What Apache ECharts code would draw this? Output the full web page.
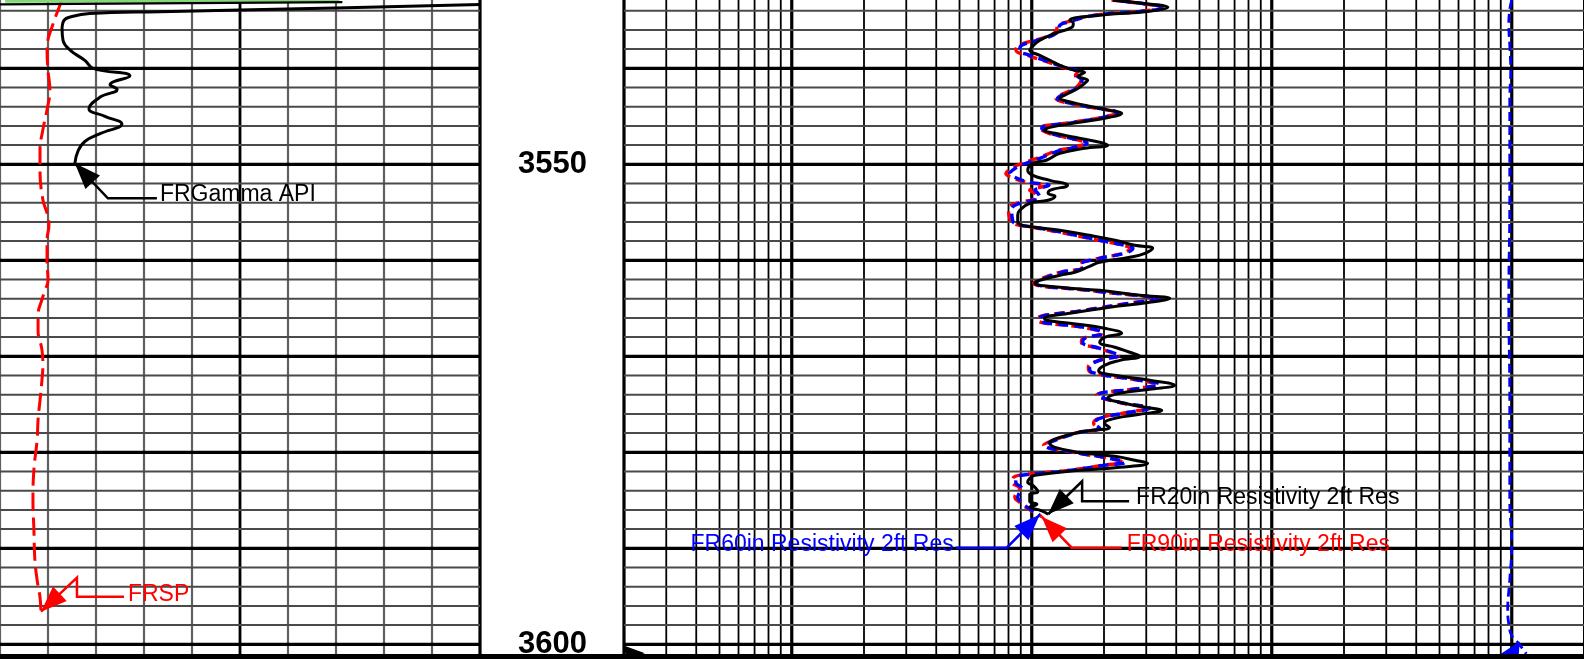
<!DOCTYPE html>
<html>
<head>
<meta charset="utf-8">
<title>Well log 3533–3601 ft</title>
<script src="https://cdn.jsdelivr.net/npm/echarts@6.0.0/dist/echarts.min.js"></script>
<style>
  html, body { margin: 0; padding: 0; background: #fff; overflow: hidden; }
  #log { width: 1584px; height: 659px; }
</style>
</head>
<body>
<div id="log"></div>
<script>
// ---- depth window (ft) ----
const DEPTH_TOP = 3532.885;
const DEPTH_BOTTOM = 3601.53;
const depthLabels = [3550, 3600];
const gridDepths = [3534, 3536, 3538, 3540, 3542, 3544, 3546, 3548, 3550, 3552, 3554, 3556,
  3558, 3560, 3562, 3564, 3566, 3568, 3570, 3572, 3574, 3576, 3578, 3580, 3582, 3584, 3586,
  3588, 3590, 3592, 3594, 3596, 3598, 3600];

// ---- track scales ----
const gammaTicks = [0, 15, 30, 45, 60, 75, 90, 105, 120, 135, 150];
const gammaMajorTicks = [75, 150];
const resMinorTicks = [0.3, 0.4, 0.5, 0.6, 0.7, 0.8, 0.9, 2, 3, 4, 5, 6, 7, 8, 9,
  20, 30, 40, 50, 60, 70, 80, 90, 200, 300, 400, 500, 600, 700, 800, 900];
const resMajorTicks = [0.2, 1, 10, 100, 1000, 2000];

// ---- curves: [depth ft, value] ----
const gammaRay = [
  [3533.36, 150], [3533.8, 93], [3534.1, 50], [3534.3, 28], [3534.6, 22.5], [3535.0, 20.0],
  [3535.9, 19.4], [3537.1, 19.7], [3538.1, 21.9], [3539.2, 26.6], [3540.0, 29.1], [3540.8, 40.6],
  [3541.7, 34.4], [3542.2, 36.6], [3543.0, 31.3], [3544.2, 27.8], [3545.0, 32.8], [3545.8, 38.1],
  [3546.8, 31.3], [3547.6, 26.6], [3548.6, 24.4], [3549.9, 23.4]
];
const gammaRayWrap = [[3533.35, 0], [3533.1, 107]];
const gammaFillTop = [[3532.99, 1.6], [3532.99, 106]];

const spontaneousPotential = [
  [3532.89, -80.6], [3534.24, -82.2], [3535.7, -83.75], [3537.0, -85.0], [3538.1, -85.3],
  [3540.2, -85.0], [3542.3, -84.4], [3544.3, -85.3], [3546.4, -86.6], [3548.5, -87.5],
  [3550.6, -87.5], [3553.7, -86.6], [3555.1, -85.3], [3556.3, -84.7], [3557.9, -85.3],
  [3560.0, -85.3], [3562.1, -85.0], [3563.1, -85.9], [3564.1, -86.9], [3565.7, -88.1],
  [3567.3, -88.1], [3569.3, -86.9], [3570.9, -86.6], [3572.5, -86.9], [3574.6, -87.5],
  [3576.6, -88.1], [3578.7, -88.4], [3581.8, -89.4], [3584.96, -89.7], [3588.1, -89.4],
  [3591.2, -89.1], [3593.3, -88.4], [3595.1, -87.5], [3596.6, -87.2]
];

const res20 = [
  [3532.9, 21.8], [3533.3, 30.5], [3533.65, 36.9], [3534.06, 31.0], [3534.48, 19.2], [3535.0, 14.4],
  [3535.3, 14.9], [3535.73, 14.7], [3536.35, 12.5], [3537.08, 10.8], [3537.81, 10.0], [3538.13, 9.81],
  [3538.65, 10.8], [3539.17, 11.9], [3539.69, 13.1], [3540.21, 15.1], [3540.42, 16.6], [3540.83, 15.6],
  [3541.25, 17.1], [3541.56, 16.6], [3542.08, 15.6], [3542.81, 13.7], [3543.13, 13.1], [3543.33, 13.5],
  [3543.85, 16.6], [3544.38, 21.1], [3544.69, 23.7], [3545.1, 21.1], [3545.63, 15.8], [3546.15, 11.9],
  [3546.46, 11.3], [3546.77, 12.5], [3547.19, 15.1], [3547.71, 19.2], [3548.02, 20.7], [3548.33, 16.6],
  [3548.85, 13.1], [3549.58, 11.5], [3549.9, 10.1], [3550.63, 9.62], [3551.15, 10.1], [3551.67, 11.9],
  [3552.19, 14.1], [3552.71, 11.9], [3553.02, 11.7], [3553.33, 12.5], [3553.75, 11.7], [3554.06, 9.81],
  [3554.79, 8.91], [3555.31, 8.74], [3555.83, 8.74], [3556.25, 8.91], [3556.56, 10.3], [3556.88, 13.1],
  [3557.4, 17.4], [3557.92, 22.2], [3558.44, 26.9], [3558.75, 31.9], [3559.27, 29.6], [3559.69, 25.6],
  [3560.21, 19.2], [3560.63, 17.4], [3561.25, 15.1], [3561.56, 13.1], [3562.08, 10.8], [3562.4, 10.3],
  [3562.81, 13.1], [3563.13, 19.2], [3563.65, 28.2], [3563.96, 37.6], [3564.38, 31.0], [3564.9, 21.1],
  [3565.52, 14.4], [3566.04, 11.3], [3566.25, 11.5], [3566.56, 14.4], [3567.08, 20.1], [3567.6, 23.7],
  [3568.02, 20.1], [3568.54, 19.2], [3569.06, 22.2], [3569.58, 25.6], [3570.0, 28.2], [3570.42, 23.3],
  [3570.94, 20.1], [3571.5, 19.0], [3571.98, 22.2], [3572.5, 31.0], [3573.02, 39.4], [3573.44, 31.0],
  [3573.85, 23.3], [3574.38, 20.7], [3574.79, 23.3], [3575.31, 29.6], [3575.63, 34.8], [3576.04, 28.2],
  [3576.46, 22.2], [3576.98, 20.1], [3577.4, 21.1], [3577.81, 16.6], [3578.44, 13.1], [3579.06, 11.9],
  [3579.48, 12.5], [3580.0, 15.8], [3580.42, 22.2], [3580.83, 26.9], [3581.15, 30.4], [3581.56, 23.3],
  [3581.88, 15.8], [3582.4, 10.3], [3582.71, 9.81], [3583.13, 9.62], [3583.44, 10.1], [3584.1, 10.6],
  [3584.38, 9.81], [3585.1, 9.81], [3585.4, 10.5], [3585.7, 9.81], [3586.1, 11.0], [3586.45, 11.7]
];

const res60 = [
  [3532.9, 21.8], [3533.3, 30.0], [3533.65, 35.8], [3534.06, 29.0], [3534.48, 18.3], [3535.21, 14.1],
  [3535.52, 13.1], [3536.25, 12.8], [3536.88, 11.3], [3537.6, 9.08], [3538.13, 8.91], [3538.65, 9.81],
  [3539.17, 11.3], [3539.9, 13.7], [3540.42, 15.8], [3540.73, 15.4], [3541.25, 16.2], [3541.98, 15.6],
  [3542.81, 13.3], [3543.13, 12.8], [3543.85, 16.0], [3544.69, 22.8], [3545.1, 20.0], [3545.63, 15.0],
  [3546.25, 11.0], [3546.77, 12.0], [3547.19, 14.0], [3547.81, 17.0], [3548.33, 14.5], [3548.54, 13.1],
  [3549.38, 10.8], [3550.1, 9.0], [3550.63, 8.3], [3550.94, 8.1], [3551.35, 8.49], [3551.88, 9.81],
  [3552.19, 11.8], [3552.71, 10.3], [3553.02, 10.6], [3553.44, 10.8], [3553.96, 9.35], [3554.27, 8.49],
  [3554.79, 8.25], [3555.63, 8.3], [3556.15, 8.49], [3556.56, 10.3], [3557.08, 13.3], [3557.92, 19.2],
  [3558.44, 24.4], [3558.75, 26.4], [3559.27, 24.4], [3559.79, 19.2], [3560.52, 15.8], [3560.83, 16.2],
  [3561.25, 13.3], [3562.08, 10.8], [3562.4, 10.4], [3563.13, 17.4], [3563.85, 32.6], [3563.96, 34.1],
  [3564.48, 25.6], [3565.21, 16.6], [3566.04, 10.8], [3566.25, 10.8], [3567.08, 17.4], [3567.6, 19.8],
  [3568.13, 16.6], [3568.54, 16.3], [3569.17, 19.2], [3569.69, 22.2], [3569.9, 23.3], [3570.42, 19.2],
  [3571.15, 17.4], [3571.67, 17.8], [3572.5, 28.2], [3572.92, 34.1], [3573.33, 28.2], [3574.06, 18.8],
  [3574.79, 23.3], [3575.42, 31.0], [3575.83, 25.6], [3576.46, 19.2], [3576.98, 18.3], [3577.5, 19.2],
  [3577.92, 15.8], [3578.75, 12.5], [3579.27, 11.4], [3580.0, 15.1], [3580.63, 21.1], [3581.04, 24.4],
  [3581.35, 20.1], [3581.88, 14.4], [3582.29, 9.81], [3582.6, 8.66], [3583.13, 8.58], [3583.75, 9.08],
  [3584.17, 8.91], [3584.69, 8.74], [3585.21, 9.08], [3585.52, 9.35], [3586.04, 10.0], [3586.5, 10.8]
];

const res90 = [
  [3532.9, 21.5], [3533.3, 29.5], [3533.65, 35.0], [3534.06, 28.5], [3534.48, 18.0], [3535.21, 13.8],
  [3535.52, 12.9], [3536.25, 12.5], [3536.88, 11.0], [3537.6, 8.8], [3538.13, 8.6], [3538.65, 9.6],
  [3539.17, 11.1], [3539.9, 13.5], [3540.42, 15.5], [3540.73, 15.2], [3541.25, 16.0], [3541.98, 15.3],
  [3542.81, 13.1], [3543.13, 12.6], [3543.85, 15.8], [3544.69, 22.4], [3545.1, 19.7], [3545.63, 14.8],
  [3546.25, 10.8], [3546.77, 11.8], [3547.19, 13.8], [3547.81, 16.7], [3548.33, 14.2], [3548.54, 12.9],
  [3549.38, 10.5], [3550.1, 8.7], [3550.63, 8.0], [3550.94, 7.8], [3551.35, 8.2], [3551.88, 9.6],
  [3552.19, 11.6], [3552.71, 9.8], [3553.02, 10.3], [3553.44, 10.5], [3553.96, 9.0], [3554.27, 8.2],
  [3554.79, 8.0], [3555.63, 8.1], [3556.15, 8.3], [3556.56, 10.1], [3557.08, 13.1], [3557.92, 19.0],
  [3558.44, 24.0], [3558.75, 25.6], [3559.27, 24.0], [3559.79, 19.0], [3560.52, 15.6], [3560.83, 16.0],
  [3561.25, 13.1], [3562.08, 10.6], [3562.4, 10.2], [3563.13, 17.2], [3563.85, 32.0], [3563.96, 33.5],
  [3564.48, 25.2], [3565.21, 16.4], [3566.04, 10.6], [3566.25, 10.6], [3567.08, 17.2], [3567.6, 19.6],
  [3568.13, 16.4], [3568.54, 16.1], [3569.17, 19.0], [3569.69, 22.0], [3569.9, 23.0], [3570.42, 19.0],
  [3571.15, 17.2], [3571.67, 17.6], [3572.5, 27.8], [3572.92, 33.2], [3573.33, 27.8], [3574.06, 18.6],
  [3574.79, 23.0], [3575.42, 30.2], [3575.83, 25.2], [3576.46, 19.0], [3576.98, 18.1], [3577.5, 19.0],
  [3577.92, 15.6], [3578.75, 12.3], [3579.27, 11.2], [3580.0, 14.9], [3580.63, 20.8], [3581.04, 23.8],
  [3581.35, 19.8], [3581.88, 14.2], [3582.29, 9.6], [3582.6, 8.4], [3583.13, 8.3], [3583.75, 8.9],
  [3584.17, 8.7], [3584.69, 8.5], [3585.21, 8.9], [3585.52, 9.2], [3586.04, 9.9], [3586.7, 11.0]
];

const resDeepFlat = [
  [3532.9, 1000], [3533.9, 981], [3535.5, 972], [3537.6, 981], [3540.2, 990], [3543.3, 981],
  [3553.7, 981], [3564.1, 972], [3574.6, 981], [3585.0, 981], [3589.6, 1000], [3593.3, 981],
  [3596.4, 962], [3597.9, 972], [3599.1, 1000], [3599.8, 1059], [3601.0, 1150]
];

// ---- drawing ----
const FONT = '"Liberation Sans", Arial, Helvetica, sans-serif';
const chart = echarts.init(document.getElementById('log'), null, { renderer: 'canvas' });

const toXY = rows => rows.map(r => [r[1], r[0]]);

function verticalGrid(xAxisIndex, yAxisIndex, values, anchorDepth, styleOf) {
  return {
    type: 'custom', xAxisIndex, yAxisIndex, silent: true, z: 1, animation: false,
    data: values.map(v => [v, anchorDepth]),
    renderItem(params, api) {
      const cs = params.coordSys;
      const x = api.coord([api.value(0), api.value(1)])[0];
      const s = styleOf(api.value(0));
      return { type: 'line', shape: { x1: x, y1: cs.y, x2: x, y2: cs.y + cs.height },
               style: { stroke: s.color, lineWidth: s.width } };
    }
  };
}

function horizontalGrid(xAxisIndex, yAxisIndex, anchorValue) {
  return {
    type: 'custom', xAxisIndex, yAxisIndex, silent: true, z: 1, animation: false,
    data: gridDepths.map(d => [anchorValue, d]),
    renderItem(params, api) {
      const cs = params.coordSys;
      const d = api.value(1);
      const y = api.coord([api.value(0), d])[1];
      const major = d % 10 === 0;
      return { type: 'line', shape: { x1: cs.x, y1: y, x2: cs.x + cs.width, y2: y },
               style: { stroke: major ? '#000' : '#4a4a4a', lineWidth: major ? 3.2 : 2 } };
    }
  };
}

function curve(xAxisIndex, yAxisIndex, rows, color, width, dash, dashOffset, z) {
  return {
    type: 'line', xAxisIndex, yAxisIndex, data: toXY(rows),
    symbol: 'none', showSymbol: false, smooth: 0.45, clip: true, silent: true,
    animation: false, z: z || 3,
    lineStyle: { color, width, type: dash || 'solid', dashOffset: dashOffset || 0, cap: 'butt', join: 'round' }
  };
}

const yAxisBase = { type: 'value', inverse: true, min: DEPTH_TOP, max: DEPTH_BOTTOM, show: false };

const option = {
  animation: false,
  backgroundColor: '#fff',
  textStyle: { fontFamily: FONT },
  grid: [
    { left: 0, top: 0, width: 480, height: 659, outerBoundsMode: 'none' },
    { left: 552, top: 0, width: 1, height: 659, outerBoundsMode: 'none' },
    { left: 624, top: 0, width: 960, height: 659, outerBoundsMode: 'none' }
  ],
  xAxis: [
    { gridIndex: 0, type: 'value', min: 0, max: 150, show: false },          // gamma ray, API
    { gridIndex: 0, type: 'value', min: -100, max: 50, show: false, position: 'top' }, // SP, mV
    { gridIndex: 1, type: 'value', min: 0, max: 1, show: false },
    { gridIndex: 2, type: 'log', logBase: 10, min: 0.2, max: 2000, show: false } // resistivity, ohm·m
  ],
  yAxis: [
    Object.assign({ gridIndex: 0 }, yAxisBase),
    Object.assign({ gridIndex: 1 }, yAxisBase),
    Object.assign({ gridIndex: 2 }, yAxisBase)
  ],
  series: [
    // 0-1: gamma / SP track grid
    verticalGrid(0, 0, gammaTicks, 3560, v => gammaMajorTicks.includes(v)
      ? { color: '#000', width: v === 150 ? 3.2 : 2.8 } : { color: '#606060', width: 2.2 }),
    horizontalGrid(0, 0, 75),
    // 2-4: resistivity track grid
    verticalGrid(3, 2, resMinorTicks, 3560, () => ({ color: '#000', width: 1.8 })),
    verticalGrid(3, 2, resMajorTicks, 3560, v => ({ color: '#000', width: v === 2000 ? 2 : 3.2 })),
    horizontalGrid(3, 2, 10),
    // 5: depth numbers
    {
      type: 'custom', xAxisIndex: 2, yAxisIndex: 1, silent: true, z: 5, animation: false,
      data: depthLabels.map(d => [0.5, d]),
      renderItem(params, api) {
        const p = api.coord([api.value(0), api.value(1)]);
        return { type: 'text', x: p[0], y: p[1],
                 style: { text: String(api.value(1)), fill: '#000', font: 'bold 31px ' + FONT,
                          align: 'center', verticalAlign: 'middle' } };
      }
    },
    // 6: SP
    curve(1, 0, spontaneousPotential, '#ff0000', 3, [18, 7], 0, 3),
    // 7-9: gamma ray
    curve(0, 0, gammaFillTop, '#86d77a', 3.5, 'solid', 0, 3),
    curve(0, 0, gammaRayWrap, '#000', 2.2, 'solid', 0, 4),
    curve(0, 0, gammaRay, '#000', 3, 'solid', 0, 4),
    // 10-13: resistivity
    curve(3, 2, res90, '#ff0000', 3.4, [10, 6], 0, 3),
    curve(3, 2, res60, '#0000ff', 3.4, [10, 6], 8, 3),
    curve(3, 2, res20, '#000', 3, 'solid', 0, 4),
    curve(3, 2, resDeepFlat, '#0000ff', 2.8, [9, 5], 0, 3)
  ]
};

chart.setOption(option);

// ---- curve name callouts, anchored at each curve's last sample ----
const SERIES = { sp: 6, gr: 9, r90: 10, r60: 11, r20: 12, deep: 13 };
function endPixel(key, rows) {
  const last = rows[rows.length - 1];
  return chart.convertToPixel({ seriesIndex: SERIES[key] }, [last[1], last[0]]);
}

function arrowHead(tip, from, color) {
  const dx = from[0] - tip[0], dy = from[1] - tip[1];
  const len = Math.hypot(dx, dy);
  const ux = dx / len, uy = dy / len;
  const L = 26, W = 10;
  const bx = tip[0] + ux * L, by = tip[1] + uy * L;
  return { type: 'polygon', silent: true, z: 30,
           shape: { points: [tip, [bx - uy * W, by + ux * W], [bx + uy * W, by - ux * W]] },
           style: { fill: color } };
}

const callouts = [
  { key: 'gr', rows: gammaRay, text: 'FRGamma API', color: '#000',
    leader: [[33, 35], [82, 35]], label: [85, 31.5], align: 'left' },
  { key: 'sp', rows: spontaneousPotential, text: 'FRSP', color: '#ff0000',
    leader: [[36, -34], [36, -15], [83, -15]], label: [87, -17.5], align: 'left' },
  { key: 'r20', rows: res20, text: 'FR20in Resistivity 2ft Res', color: '#000',
    leader: [[34, -33], [34, -13], [81, -13]], label: [88, -16.5], align: 'left' },
  { key: 'r90', rows: res90, text: 'FR90in Resistivity 2ft Res', color: '#ff0000',
    leader: [[30, 31], [80, 31]], label: [85, 28], align: 'left' },
  { key: 'r60', rows: res60, text: 'FR60in Resistivity 2ft Res', color: '#0000ff',
    leader: [[-33, 33], [-84, 33]], label: [-86, 30], align: 'right' }
];

const graphics = [];
callouts.forEach(c => {
  const tip = endPixel(c.key, c.rows);
  const pts = [tip].concat(c.leader.map(o => [tip[0] + o[0], tip[1] + o[1]]));
  graphics.push({ type: 'polyline', silent: true, z: 29, shape: { points: pts },
                  style: { stroke: c.color, lineWidth: 2.5, fill: null } });
  graphics.push(arrowHead(tip, pts[1], c.color));
  graphics.push({ type: 'text', silent: true, z: 31,
                  x: tip[0] + c.label[0], y: tip[1] + c.label[1],
                  style: { text: c.text, fill: c.color, font: '23px ' + FONT,
                           align: c.align, verticalAlign: 'middle' } });
});

// callouts of curves continuing below the window (only their heads show)
const trackCorner = chart.convertToPixel({ seriesIndex: 4 }, [0.2, 3600]);
graphics.push({ type: 'polygon', silent: true, z: 30,
  shape: { points: [[trackCorner[0] - 1, trackCorner[1] + 1], [trackCorner[0] + 21, trackCorner[1] + 9],
                    [trackCorner[0] + 3, trackCorner[1] + 14]] },
  style: { fill: '#000' } });
const deepEnd = chart.convertToPixel({ seriesIndex: SERIES.deep }, [1059, 3599.8]);
graphics.push({ type: 'polygon', silent: true, z: 30,
  shape: { points: [[deepEnd[0] + 2, deepEnd[1] - 1], [deepEnd[0] - 18, deepEnd[1] + 12],
                    [deepEnd[0] + 1, deepEnd[1] + 13]] },
  style: { fill: '#0000ff' } });

// bottom frame
graphics.push({ type: 'rect', silent: true, z: 40,
  shape: { x: 0, y: 654, width: 1584, height: 6 }, style: { fill: '#000' } });

chart.setOption({ graphic: graphics });
</script>
</body>
</html>
